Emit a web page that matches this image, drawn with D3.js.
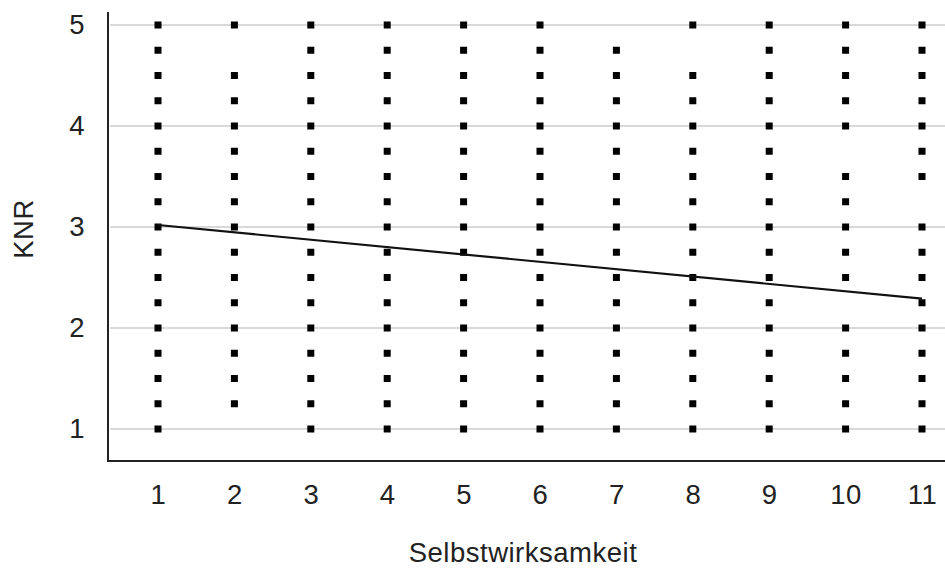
<!DOCTYPE html>
<html>
<head>
<meta charset="utf-8">
<script src="https://cdn.jsdelivr.net/npm/d3@7"></script>
<style>
  html, body { margin: 0; padding: 0; background: #fff; }
  text { font-family: "Liberation Sans", Arial, sans-serif; }
</style>
</head>
<body>
<svg id="chart" width="945" height="568"></svg>
<script>
// Selbstwirksamkeit categories (x) and observed KNR values at each one
const selbstwirksamkeit = [1, 2, 3, 4, 5, 6, 7, 8, 9, 10, 11];
const knrObserved = [
  [5, 4.75, 4.5, 4.25, 4, 3.75, 3.5, 3.25, 3, 2.75, 2.5, 2.25, 2, 1.75, 1.5, 1.25, 1],
  [5, 4.5, 4.25, 4, 3.75, 3.5, 3.25, 3, 2.75, 2.5, 2.25, 2, 1.75, 1.5, 1.25],
  [5, 4.75, 4.5, 4.25, 4, 3.75, 3.5, 3.25, 3, 2.75, 2.5, 2.25, 2, 1.75, 1.5, 1.25, 1],
  [5, 4.75, 4.5, 4.25, 4, 3.75, 3.5, 3.25, 3, 2.75, 2.5, 2.25, 2, 1.75, 1.5, 1.25, 1],
  [5, 4.75, 4.5, 4.25, 4, 3.75, 3.5, 3.25, 3, 2.75, 2.5, 2.25, 2, 1.75, 1.5, 1.25, 1],
  [5, 4.75, 4.5, 4.25, 4, 3.75, 3.5, 3.25, 3, 2.75, 2.5, 2.25, 2, 1.75, 1.5, 1.25, 1],
  [4.75, 4.5, 4.25, 4, 3.75, 3.5, 3.25, 3, 2.75, 2.5, 2.25, 2, 1.75, 1.5, 1.25, 1],
  [5, 4.5, 4.25, 4, 3.75, 3.5, 3.25, 3, 2.75, 2.5, 2.25, 2, 1.75, 1.5, 1.25, 1],
  [5, 4.75, 4.5, 4.25, 4, 3.75, 3.5, 3.25, 3, 2.75, 2.5, 2.25, 2, 1.75, 1.5, 1.25, 1],
  [5, 4.75, 4.5, 4.25, 4, 3.5, 3.25, 3, 2.75, 2.5, 2, 1.75, 1.5, 1.25, 1],
  [5, 4.75, 4.5, 4.25, 4, 3.75, 3.5, 3, 2.75, 2.5, 2.25, 2, 1.75, 1.5, 1.25, 1]
];
// Fitted regression line endpoints (x, KNR)
const trendX = [1, 11];
const trendY = [3.02, 2.29];
const yTicks = [1, 2, 3, 4, 5];
const xTicks = [1, 2, 3, 4, 5, 6, 7, 8, 9, 10, 11];

const svg = d3.select("#chart");
const plotLeft = 108, plotRight = 945, plotTop = 12, plotBottom = 461;
const fontSize = 27.5, textColor = "#222";

const x = d3.scaleLinear().domain([1, 11]).range([158, 922]);
const y = d3.scaleLinear().domain([1, 5]).range([429, 25]);

// horizontal gridlines
svg.append("g")
  .selectAll("line")
  .data(yTicks)
  .join("line")
  .attr("x1", plotLeft + 2).attr("x2", plotRight)
  .attr("y1", d => y(d)).attr("y2", d => y(d))
  .attr("stroke", "#d9d9d9").attr("stroke-width", 2);

function styleTicks(g) {
  g.select(".domain").remove();
  g.selectAll("text")
    .attr("font-size", fontSize)
    .attr("fill", textColor)
    .attr("letter-spacing", 0.5)
    .attr("font-family", "Liberation Sans, Arial, sans-serif");
}

// y axis
svg.append("g")
  .attr("transform", `translate(${plotLeft},0)`)
  .call(d3.axisLeft(y).tickValues(yTicks).tickSize(0).tickPadding(23).tickFormat(d3.format("d")))
  .call(styleTicks);

// x axis
svg.append("g")
  .attr("transform", `translate(0,${plotBottom})`)
  .call(d3.axisBottom(x).tickValues(xTicks).tickSize(0).tickPadding(23).tickFormat(d3.format("d")))
  .call(styleTicks);

// axis lines
svg.append("line")
  .attr("x1", plotLeft).attr("x2", plotLeft)
  .attr("y1", plotTop).attr("y2", plotBottom + 1)
  .attr("stroke", "#222").attr("stroke-width", 2);
svg.append("line")
  .attr("x1", plotLeft - 1).attr("x2", plotRight)
  .attr("y1", plotBottom).attr("y2", plotBottom)
  .attr("stroke", "#222").attr("stroke-width", 2);

// scatter points (square markers)
const points = [];
selbstwirksamkeit.forEach((sw, i) => knrObserved[i].forEach(k => points.push({ sw, k })));
const s = 7;
svg.append("g")
  .selectAll("rect")
  .data(points)
  .join("rect")
  .attr("x", d => x(d.sw) - s / 2)
  .attr("y", d => y(d.k) - s / 2)
  .attr("width", s).attr("height", s)
  .attr("fill", "#000");

// regression line
svg.append("path")
  .datum(trendX.map((v, i) => [v, trendY[i]]))
  .attr("d", d3.line().x(d => x(d[0])).y(d => y(d[1])))
  .attr("fill", "none")
  .attr("stroke", "#111")
  .attr("stroke-width", 2.2);

// axis titles
svg.append("text")
  .attr("x", 523).attr("y", 562)
  .attr("text-anchor", "middle")
  .attr("font-size", fontSize).attr("fill", textColor)
  .attr("letter-spacing", 0.5)
  .text("Selbstwirksamkeit");
svg.append("text")
  .attr("transform", "translate(33,229) rotate(-90)")
  .attr("text-anchor", "middle")
  .attr("font-size", fontSize).attr("fill", textColor)
  .attr("letter-spacing", 0.5)
  .text("KNR");
</script>
</body>
</html>
